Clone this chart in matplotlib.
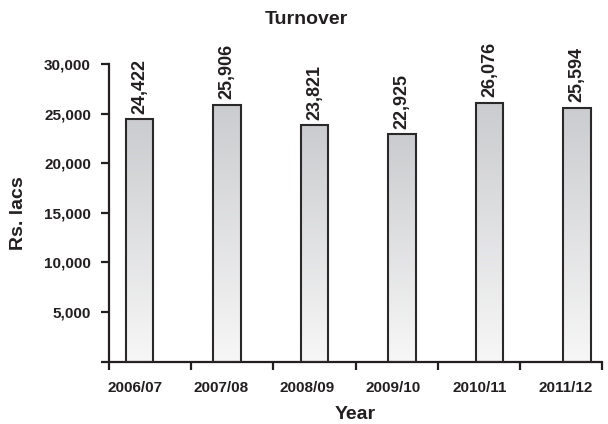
import numpy as np
import matplotlib.pyplot as plt
from matplotlib.colors import LinearSegmentedColormap

plt.rcParams['font.family'] = ['Liberation Sans', 'DejaVu Sans']
ink = '#231f20'

years = ['2006/07', '2007/08', '2008/09', '2009/10', '2010/11', '2011/12']
turnover = [24422, 25906, 23821, 22925, 26076, 25594]

fig = plt.figure(figsize=(6.08, 4.24), dpi=100)
ax = fig.add_axes([0.1793, 0.1469, 0.8109, 0.7022])

x = np.arange(len(years))
bw = 0.314
x0, x1 = -0.349, 5.286

bars = ax.bar(x, turnover, width=bw, color='none', edgecolor='#2a2829', linewidth=1.5, zorder=3)

# vertical grey-to-white fill inside each bar
cmap = LinearSegmentedColormap.from_list('g', ['#f7f7f7', '#cbcccf'])
grad = np.linspace(0, 1, 256).reshape(-1, 1)
for b in bars:
    bx, by, bwid, bh = b.get_x(), b.get_y(), b.get_width(), b.get_height()
    im = ax.imshow(grad, cmap=cmap, origin='lower', aspect='auto',
                   extent=[bx, bx + bwid, by, by + bh], zorder=2)
    im.set_clip_path(b)

for xi, v in zip(x, turnover):
    ax.annotate(f'{v:,}', (xi, v), xytext=(0, 4), textcoords='offset points',
                rotation=90, ha='center', va='bottom', fontsize=13,
                fontweight='bold', color=ink)

ax.set_xlim(x0, x1)
ax.set_ylim(0, 30000)

# tick marks on the category boundaries, labels placed separately
ax.set_xticks(np.linspace(x0, x1, 7))
ax.set_xticklabels([])
ax.set_xticks(-0.057 + 0.985 * x, minor=True)
ax.set_xticklabels(years, minor=True, fontsize=11, fontweight='bold', color=ink)
ax.tick_params(axis='x', which='major', direction='out', length=6, width=1.6, color=ink)
ax.tick_params(axis='x', which='minor', length=0, pad=14)

yt = np.arange(0, 30001, 5000)
ax.set_yticks(yt)
ax.set_yticklabels([''] + [f'{t:,}' for t in yt[1:]], fontsize=11, fontweight='bold', color=ink)
ax.tick_params(axis='y', direction='out', length=6, width=1.6, color=ink, pad=7)

for s in ['top', 'right']:
    ax.spines[s].set_visible(False)
for s in ['left', 'bottom']:
    ax.spines[s].set_linewidth(1.6)
    ax.spines[s].set_color(ink)

ax.set_xlabel('Year', fontsize=14, fontweight='bold', color=ink, labelpad=8)
ax.set_ylabel('Rs. lacs', fontsize=14, fontweight='bold', color=ink, labelpad=12)
fig.text(0.504, 0.955, 'Turnover', ha='center', va='center', fontsize=14,
         fontweight='bold', color=ink)

fig.savefig('out.png', dpi=100)
